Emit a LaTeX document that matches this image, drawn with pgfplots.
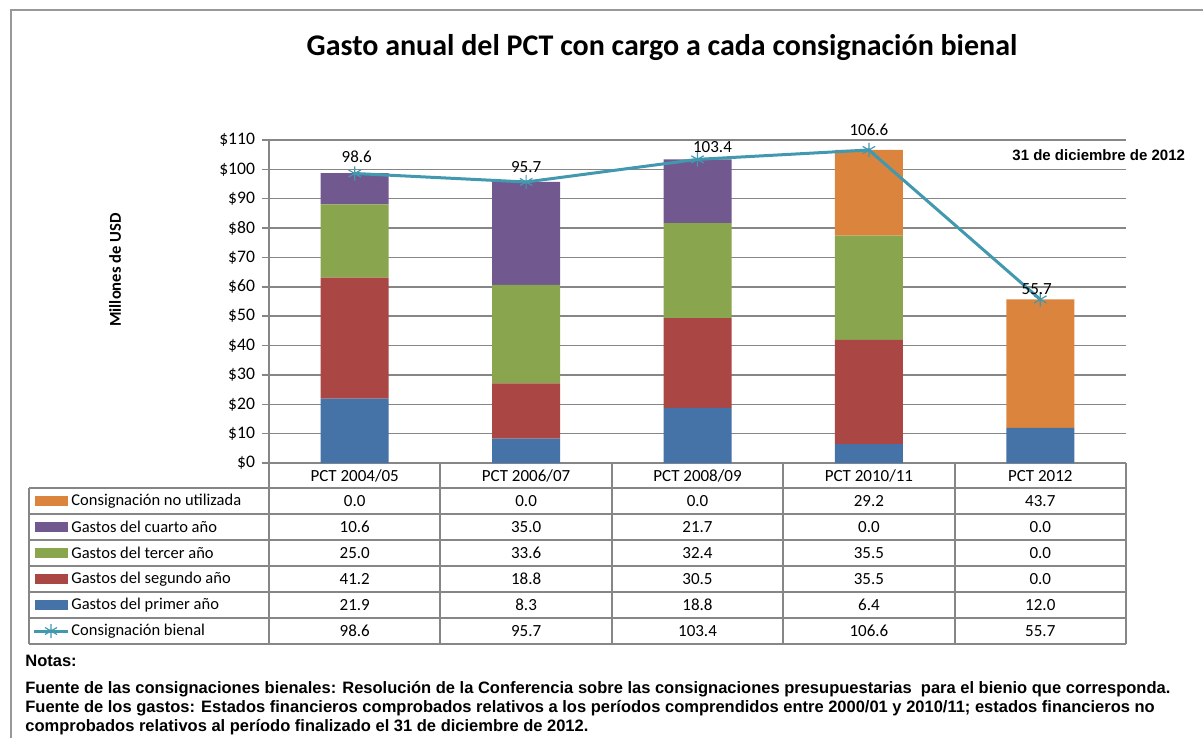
\documentclass[border=0pt]{standalone}
\usepackage{pgfplots}
\pgfplotsset{compat=1.18}
\usepackage{pgfplotstable}
\usepackage{fontspec}
\setmainfont{Carlito}
\newfontfamily\arial{Liberation Sans}

\definecolor{cBlue}{RGB}{69,114,167}
\definecolor{cRed}{RGB}{170,70,67}
\definecolor{cGreen}{RGB}{137,165,78}
\definecolor{cPurple}{RGB}{113,88,143}
\definecolor{cOrange}{RGB}{219,132,61}
\definecolor{cTeal}{RGB}{65,152,175}
\definecolor{gridgray}{RGB}{134,134,134}

\pgfplotstableread{
x primer segundo tercer cuarto nouti consig dy dx
0 21.9 41.2 25.0 10.6 0.0 98.6 8.5 1
1 8.3 18.8 33.6 35.0 0.0 95.7 7.5 0
2 18.8 30.5 32.4 21.7 0.0 103.4 6.2 7.5
3 6.4 35.5 35.5 0.0 29.2 106.6 10 0
4 12.0 0.0 0.0 0.0 43.7 55.7 5 -1.8
}\datatable

\newcommand{\tfont}{\fontsize{8.5}{10}\selectfont}
\newcommand{\lfont}{\fontsize{8.25}{10}\selectfont}

\begin{document}
\begin{tikzpicture}[x=0.5pt,y=-0.5pt]
\useasboundingbox (0,0) rectangle (1203,738);
% outer frame
\draw[gridgray!85, line width=0.8pt] (11,738) -- (11,10) -- (1203,10);

% title
\node[font=\fontsize{15}{17}\selectfont\bfseries] at (662,48) {Gasto anual del PCT con cargo a cada consignación bienal};

% y label
\node[rotate=90, font=\fontsize{8.3}{10}\selectfont\bfseries] at (115,270) {Millones de USD};

\begin{axis}[
  at={(134.5pt,-231.5pt)}, anchor=south west,
  scale only axis, width=428.5pt, height=161.5pt,
  xmin=-0.5, xmax=4.5, ymin=0, ymax=110,
  ybar stacked, bar width=34pt,
  axis lines*=left,
  axis line style={gridgray, line width=0.75pt},
  xtick=\empty,
  ytick={0,10,...,110},
  tick align=outside, major tick length=3.5pt,
  ytick style={gridgray, line width=0.75pt},
  ymajorgrids, grid style={gridgray, line width=0.75pt},
  /pgf/number format/assume math mode=true,
  yticklabel={\$\pgfmathprintnumber{\tick}},
  yticklabel style={font=\fontsize{8.8}{10}\selectfont},
  clip=false,
]
\addplot[fill=cBlue, draw=none] table[x=x,y=primer]{\datatable};
\addplot[fill=cRed, draw=none] table[x=x,y=segundo]{\datatable};
\addplot[fill=cGreen, draw=none] table[x=x,y=tercer]{\datatable};
\addplot[fill=cPurple, draw=none] table[x=x,y=cuarto]{\datatable};
\addplot[fill=cOrange, draw=none] table[x=x,y=nouti]{\datatable};
\end{axis}

\begin{axis}[
  at={(134.5pt,-231.5pt)}, anchor=south west,
  scale only axis, width=428.5pt, height=161.5pt,
  xmin=-0.5, xmax=4.5, ymin=0, ymax=110,
  hide axis, clip=false,
  /pgf/number format/assume math mode=true,
]
\addplot[cTeal, line width=1.5pt, mark=asterisk, mark size=3.6pt,
  mark options={solid, line width=0.6pt},
  visualization depends on={\thisrow{dy} \as \dy},
  visualization depends on={\thisrow{dx} \as \dx},
  nodes near coords={\pgfmathprintnumber[fixed,fixed zerofill,precision=1]{\pgfplotspointmeta}},
  every node near coord/.append style={anchor=center, text=black, font=\tfont, yshift=\dy pt, xshift=\dx pt},
  point meta=explicit,
] table[x=x,y=consig,meta=consig]{\datatable};
\end{axis}

% date label
\node[anchor=west, font=\arial\fontsize{7.5}{9}\selectfont\bfseries, inner sep=0pt] at (1012,155) {31 de diciembre de 2012};

% data table grid
\foreach \yy in {488,514,540,566,592,618,644}
  \draw[gridgray, line width=0.75pt] (29,\yy) -- (1126,\yy);
\draw[gridgray, line width=0.75pt] (29,488) -- (29,644);
\draw[gridgray, line width=0.75pt] (269,463) -- (269,644);
\foreach \xx in {440,612,783,955,1126}
  \draw[gridgray, line width=0.75pt] (\xx,463) -- (\xx,644);

% header
\node[font=\tfont] at (354.7,476) {PCT 2004/05};
\node[font=\tfont] at (526.1,476) {PCT 2006/07};
\node[font=\tfont] at (697.5,476) {PCT 2008/09};
\node[font=\tfont] at (868.9,476) {PCT 2010/11};
\node[font=\tfont] at (1040.3,476) {PCT 2012};

% legend column
\foreach \lab/\col/\yc in {Consignación no utilizada/cOrange/501, Gastos del cuarto año/cPurple/527, Gastos del tercer año/cGreen/553, Gastos del segundo año/cRed/579, Gastos del primer año/cBlue/605}{
  \fill[\col] (35,\yc-5) rectangle (68,\yc+5);
  \node[anchor=west, font=\lfont, inner sep=0pt] at (71,\yc) {\lab};
}
\draw[cTeal, line width=1.5pt] (34,631) -- (68,631);
\draw[cTeal, line width=0.6pt] (51,624) -- (51,638) (45,627.5) -- (57,634.5) (45,634.5) -- (57,627.5);
\node[anchor=west, font=\lfont, inner sep=0pt] at (71,631) {Consignación bienal};

% values
\foreach \yc/\a/\b/\c/\d/\e in {
  501/0.0/0.0/0.0/29.2/43.7,
  527/10.6/35.0/21.7/0.0/0.0,
  553/25.0/33.6/32.4/35.5/0.0,
  579/41.2/18.8/30.5/35.5/0.0,
  605/21.9/8.3/18.8/6.4/12.0,
  631/98.6/95.7/103.4/106.6/55.7}{
  \node[font=\tfont] at (354.7,\yc) {\a};
  \node[font=\tfont] at (526.1,\yc) {\b};
  \node[font=\tfont] at (697.5,\yc) {\c};
  \node[font=\tfont] at (868.9,\yc) {\d};
  \node[font=\tfont] at (1040.3,\yc) {\e};
}

% notes
\begin{scope}[font=\arial\fontsize{8.25}{9}\selectfont\bfseries]
\node[anchor=west, inner sep=0pt] at (25,661) {Notas:};
\node[anchor=west, inner sep=0pt] at (25,689) {Fuente de las consignaciones bienales: Resolución de la Conferencia sobre las consignaciones presupuestarias\ \ para el bienio que corresponda.};
\node[anchor=west, inner sep=0pt] at (25,708) {Fuente de los gastos: Estados financieros comprobados relativos a los períodos comprendidos entre 2000/01 y 2010/11; estados financieros no};
\node[anchor=west, inner sep=0pt] at (25,727) {comprobados relativos al período finalizado el 31 de diciembre de 2012.};
\end{scope}
\end{tikzpicture}
\end{document}
